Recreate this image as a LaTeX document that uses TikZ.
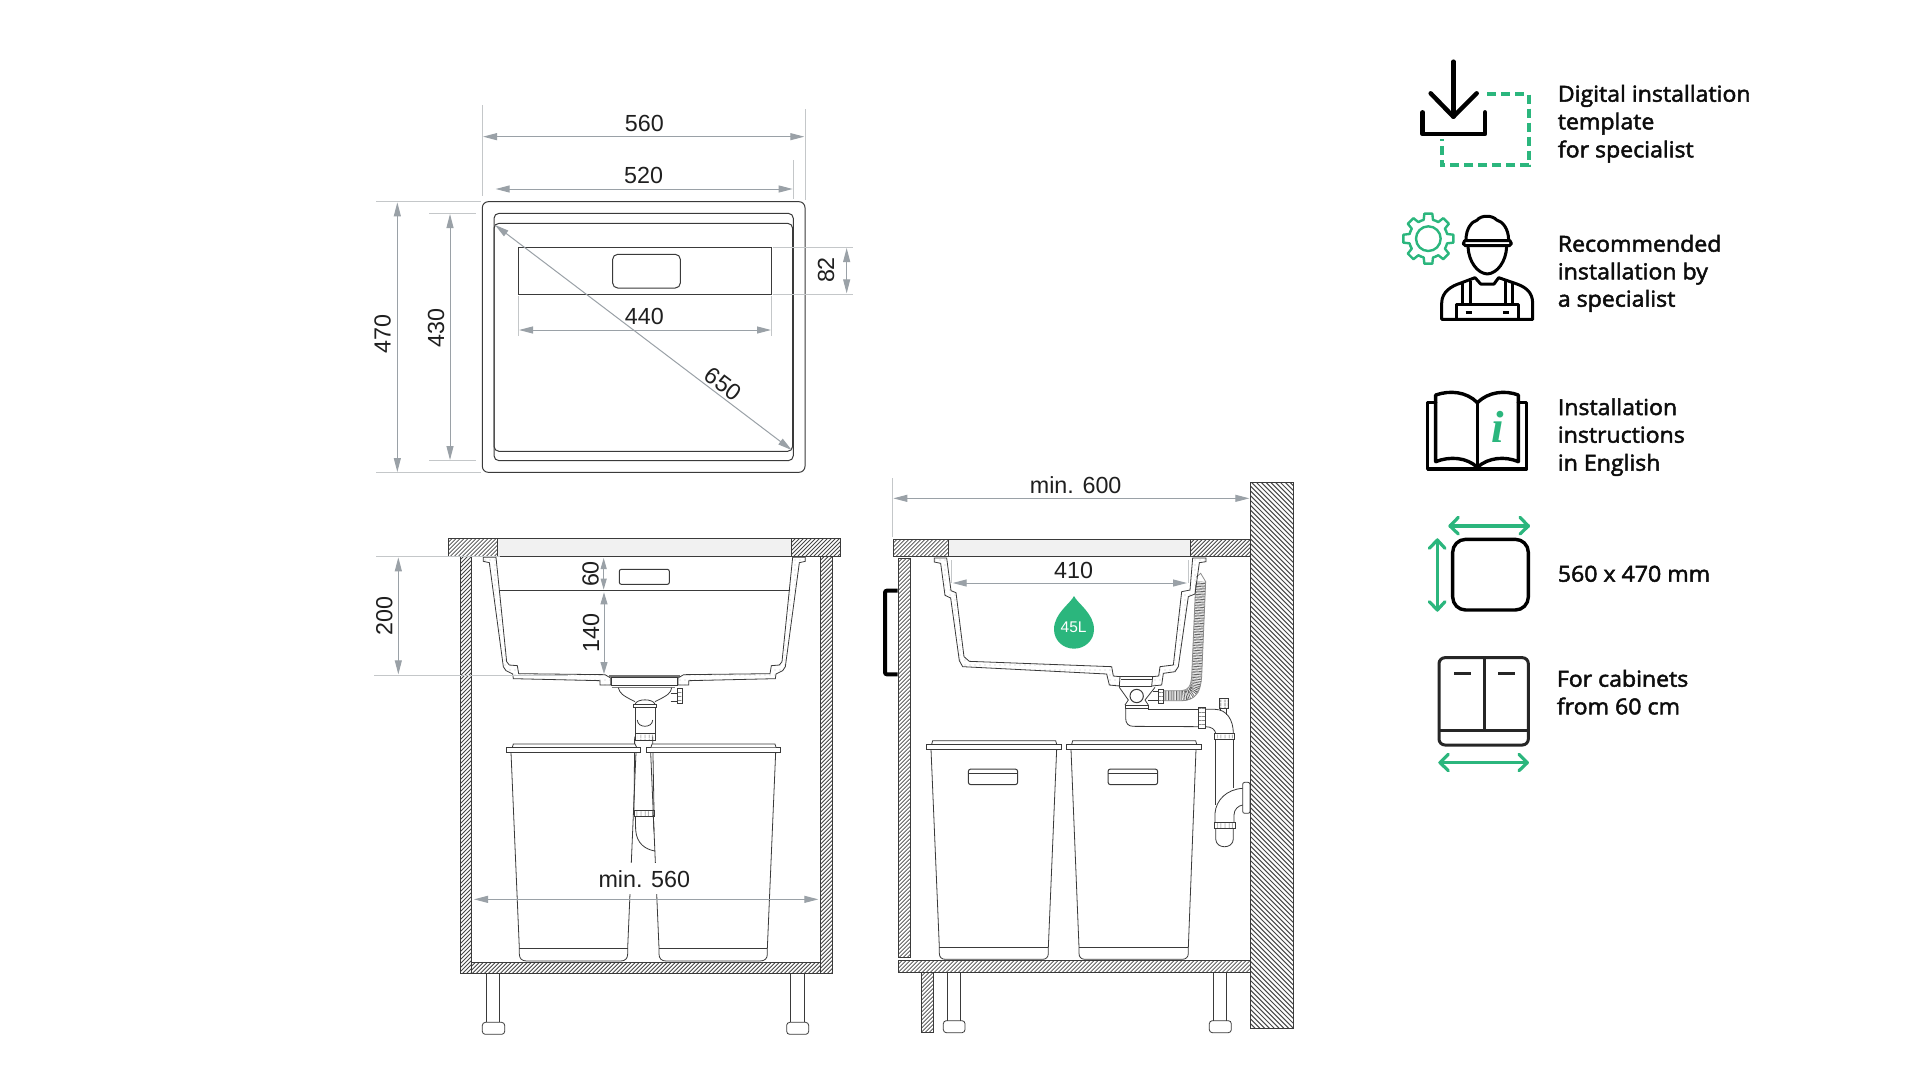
\documentclass[tikz,border=0pt]{standalone}
\usepackage{fontspec}
\setmainfont{Liberation Sans}
\newfontfamily\uifont{Open Sans}[FakeBold=2.2,FakeStretch=1.05]
\newfontfamily\infofont{Liberation Serif}
\usetikzlibrary{arrows.meta,patterns.meta}
\definecolor{dimgrey}{HTML}{9AA1A7}
\definecolor{extgrey}{HTML}{C4C7C9}
\definecolor{inkline}{HTML}{3A3A3A}
\definecolor{brand}{HTML}{2BB67D}
\definecolor{panel}{HTML}{F1F1F1}
\tikzset{
 Za/.style={shift={(360,90)},x=.33333pt,y=-.33333pt},
 Zb/.style={shift={(360,520)},x=.33333pt,y=-.33333pt},
 Zbm/.style={shift={(928.667,520)},x=-.33333pt,y=-.33333pt},
 Zc/.style={shift={(360,780)},x=.33333pt,y=-.33333pt},
 Zcm/.style={shift={(926.667,780)},x=-.33333pt,y=-.33333pt},
 Zd/.style={shift={(880,470)},x=.33333pt,y=-.33333pt},
 Ze/.style={shift={(880,760)},x=.33333pt,y=-.33333pt},
 Zf/.style={shift={(1390,50)},x=.33333pt,y=-.33333pt},
 Zg/.style={shift={(1390,380)},x=.33333pt,y=-.33333pt},
 ink/.style={draw=inkline,line width=.8pt},
 dimline/.style={draw=dimgrey,line width=1pt,arrows={Triangle[length=14pt,width=7pt]-Triangle[length=14pt,width=7pt]}},
 extline/.style={draw=extgrey,line width=1pt},
 dimtext/.style={inner sep=0pt,text=black!88,font=\fontsize{23.3}{23.3}\selectfont},
 uitext/.style={inner sep=0pt,anchor=base west,text=black!95,font=\uifont\fontsize{22}{22}\selectfont},
 stipple/.style={ink,pattern={Dots[distance=5pt,radius=.4pt]},pattern color=black!70},
 ringstripe/.style={ink,pattern={Lines[angle=90,distance=4pt,line width=.7pt]},pattern color=black!70},
 ringbar/.style={ink,pattern={Lines[angle=0,distance=4pt,line width=.7pt]},pattern color=black!70},
 iconblack/.style={draw=black,line width=3.4pt,line cap=round,line join=round},
 icongreen/.style={draw=brand,line width=3.2pt,line cap=round,line join=round},
}
% hatched box: x1 y1 x2 y2 (picture pixels), horizontal spacing, line width
\newcommand{\hatchup}[6]{%
 \begin{scope}
  \clip (#1,#2) rectangle (#3,#4);
  \pgfmathsetmacro{\hh}{#4-#2}
  \pgfmathsetmacro{\xa}{#1-\hh}
  \pgfmathsetmacro{\xb}{#1-\hh+#5}
  \foreach \xx in {\xa,\xb,...,#3}{
   \draw[black!72,line width=#6pt] (\xx,#4) -- ({\xx+\hh},#2);
  }
 \end{scope}
 \draw[ink] (#1,#2) rectangle (#3,#4);
}
\newcommand{\hatchdown}[6]{%
 \begin{scope}
  \clip (#1,#2) rectangle (#3,#4);
  \pgfmathsetmacro{\hh}{#4-#2}
  \pgfmathsetmacro{\xa}{#1-\hh}
  \pgfmathsetmacro{\xb}{#1-\hh+#5}
  \foreach \xx in {\xa,\xb,...,#3}{
   \draw[black!72,line width=#6pt] (\xx,#2) -- ({\xx+\hh},#4);
  }
 \end{scope}
 \draw[ink] (#1,#2) rectangle (#3,#4);
}
\begin{document}
\begin{tikzpicture}[x=1pt,y=-1pt]
\useasboundingbox (0,0) rectangle (1920,1080);
\fill[white] (0,0) rectangle (1920,1080);

%% ---------- top view
\begin{scope}[Za]
 \draw[ink,line width=1pt,rounded corners=6pt] (367,335) rectangle (1335,1147);
 \draw[ink,line width=1pt,rounded corners=5pt] (402,370) rectangle (1300,1112);
 \draw[ink,line width=1pt,rounded corners=5pt] (402,400) rectangle (1298,1084);
 \draw[ink,line width=1pt] (475,472) rectangle (1235,612);
 \draw[ink,line width=1pt,rounded corners=5pt] (758,493) rectangle (961,594);
 % extension lines
 \draw[extline] (367,45) -- (367,318);
 \draw[extline] (1335,58) -- (1335,330);
 \draw[extline] (1300,210) -- (1300,328);
 \draw[extline] (48,335) -- (362,335);
 \draw[extline] (48,1147) -- (362,1147);
 \draw[extline] (207,370) -- (347,370);
 \draw[extline] (207,1112) -- (347,1112);
 \draw[extline] (1238,472) -- (1480,472);
 \draw[extline] (1238,612) -- (1480,612);
 \draw[extline] (475,618) -- (475,738);
 \draw[extline] (1235,618) -- (1235,738);
 % dims
 \coordinate (d560a) at (369,140); \coordinate (d560b) at (1333,140);
 \draw[dimline] (d560a) -- (d560b);
 \coordinate (d520a) at (407,297); \coordinate (d520b) at (1298,297);
 \draw[dimline] (d520a) -- (d520b);
 \coordinate (d470a) at (112,337); \coordinate (d470b) at (112,1146);
 \draw[dimline] (d470a) -- (d470b);
 \coordinate (d430a) at (270,372); \coordinate (d430b) at (270,1110);
 \draw[dimline] (d430a) -- (d430b);
 \coordinate (d82a) at (1460,474); \coordinate (d82b) at (1460,610);
 \draw[dimline] (d82a) -- (d82b);
 \coordinate (d440a) at (477,720); \coordinate (d440b) at (1233,720);
 \draw[dimline] (d440a) -- (d440b);
 \coordinate (d650a) at (405,405); \coordinate (d650b) at (1295,1080);
 \draw[dimline] (d650a) -- (d650b);
 \node[dimtext] (t560) at (853,100) {560};
 \node[dimtext] (t520) at (851,257) {520};
 \node[dimtext,rotate=90] (t470) at (68,733) {470};
 \node[dimtext,rotate=90] (t430) at (228,715) {430};
 \node[dimtext,rotate=90] (t82) at (1398,540) {82};
 \node[dimtext] (t440) at (853,678) {440};
 \node[dimtext,rotate=-37] (t650) at (1090,882) {650};
\end{scope}

%% ---------- front view cabinet
\fill[panel] (497.3,538.3) rectangle (791.7,556);
\draw[ink] (497.3,538.3) rectangle (791.7,556);
\hatchup{448.3}{538.3}{497.3}{556}{4}{.75}
\hatchup{791.7}{538.3}{840.7}{556}{4}{.75}
\hatchup{460}{556}{471.7}{973.3}{4}{.75}
\hatchup{820.7}{556}{832.7}{973.3}{4}{.75}
\hatchup{471.7}{962}{820.7}{973.3}{4}{.75}
\begin{scope}[Zc]
 \draw[ink] (380,580) -- (380,727);
 \draw[ink] (419,580) -- (419,727);
 \draw[ink,rounded corners=3pt] (367,727) rectangle (434,763);
 \draw[ink] (1292,580) -- (1292,727);
 \draw[ink] (1332,580) -- (1332,727);
 \draw[ink,rounded corners=3pt] (1280,727) rectangle (1346,763);
 % waste pipe below sink
 \draw[ink] (824,-130) -- (822,92);
 \draw[ink] (878,-130) -- (882,92);
 \draw[ringstripe] (822,92) rectangle (882,110);
 \draw[ink] (826,110) -- (827,150) .. controls (830,190) and (855,208) .. (885,213);
 \draw[ink] (880,110) -- (882,155);
 % bins
 \draw[ink] (453,-83) -- (478,505) -- (478,522) .. controls (478,535) and (485,543) .. (500,543) -- (782,543) .. controls (796,543) and (803,535) .. (803,522) -- (803,505) -- (828,-83);
 \draw[ink] (478,505) -- (803,505);
\end{scope}
\begin{scope}[Zcm]
 \draw[ink] (453,-83) -- (478,505) -- (478,522) .. controls (478,535) and (485,543) .. (500,543) -- (782,543) .. controls (796,543) and (803,535) .. (803,522) -- (803,505) -- (828,-83);
 \draw[ink] (478,505) -- (803,505);
\end{scope}
\begin{scope}[Zb]
 \draw[ink,fill=white] (457,682) -- (460,672) -- (825,672) -- (830,682);
 \draw[ink,fill=white] (440,682) rectangle (840,697);
 \draw[ink,fill=white] (860,682) rectangle (1260,697);
 \draw[ink,fill=white] (873,682) -- (876,672) -- (1245,672) -- (1248,682);
 % sink
 \draw[stipple] (370,112) -- (370,124) -- (388,128) -- (430,440) -- (438,452) -- (458,462) -- (460,476) -- (720,482) -- (720,495) -- (752,495) -- (752,474) -- (735,464) -- (476,461) -- (472,437) -- (448,435) -- (440,425) -- (408,112) -- cycle;
 \draw[ink] (418,212) -- (1290,212);
 \draw[ink,line width=1pt,rounded corners=2pt] (778,148) rectangle (928,193);
 % drain
 \fill[black!55] (746,465) rectangle (960,471);
 \draw[ink] (755,472) rectangle (952,497);
 \draw[ink,draw=black!50] (755,503) -- (945,503);
 \draw[ink] (775,503) .. controls (780,520) and (785,525) .. (825,545);
 \draw[ink] (935,503) .. controls (932,520) and (925,525) .. (885,545);
 \draw[ink] (825,553) .. controls (830,535) and (880,535) .. (885,553);
 \draw[ink] (820,553) rectangle (890,563);
 \draw[ringbar] (952,505) rectangle (968,550);
 \draw[ink] (932,520) -- (952,520);
 \draw[ink] (932,545) -- (952,545);
 \draw[ink] (825,563) -- (825,640);
 \draw[ink] (885,563) -- (885,640);
 \draw[ink] (832,600) .. controls (832,625) and (878,625) .. (878,600);
 \draw[ringstripe] (825,640) rectangle (885,660);
\end{scope}
\begin{scope}[Zbm]
 \draw[stipple] (370,112) -- (370,124) -- (388,128) -- (430,440) -- (438,452) -- (458,462) -- (460,476) -- (720,482) -- (720,495) -- (752,495) -- (752,474) -- (735,464) -- (476,461) -- (472,437) -- (448,435) -- (440,425) -- (408,112) -- cycle;
\end{scope}
\begin{scope}[Zb]
 \draw[extline] (48,110) -- (420,110);
 \draw[extline] (43,465) -- (625,465);
 \coordinate (d200a) at (115,112); \coordinate (d200b) at (115,463);
 \draw[dimline] (d200a) -- (d200b);
 \coordinate (d60a) at (731,114); \coordinate (d60b) at (731,209);
 \draw[dimline,arrows={Triangle[length=11pt,width=6pt]-Triangle[length=11pt,width=6pt]}] (d60a) -- (d60b);
 \coordinate (d140a) at (732,217); \coordinate (d140b) at (732,462);
 \draw[dimline,arrows={Triangle[length=12pt,width=7pt]-Triangle[length=12pt,width=7pt]}] (d140a) -- (d140b);
 \node[dimtext,rotate=90] (t200) at (73,287) {200};
 \node[dimtext,rotate=90] (t60) at (692,162) {60};
 \node[dimtext,rotate=90] (t140) at (693,338) {140};
\end{scope}
\begin{scope}[Zc]
 \node[fill=white,inner sep=0pt,minimum width=96pt,minimum height=31pt] (tbg) at (853,296) {};
 \node[dimtext] (tmin560) at (853,297) {min. 560};
 \coordinate (dm560a) at (342,358); \coordinate (dm560b) at (1375,358);
 \draw[dimline] (dm560a) -- (dm560b);
\end{scope}

%% ---------- side view cabinet
\hatchdown{1250.3}{482}{1293.7}{1028.3}{4.8}{1.05}
\fill[panel] (948.3,539) rectangle (1190.7,556.7);
\draw[ink] (948.3,539) rectangle (1190.7,556.7);
\hatchup{893.3}{539}{948.3}{556.7}{4}{.75}
\hatchup{1190.7}{539}{1250.3}{556.7}{4}{.75}
\hatchup{898.3}{558.3}{910.7}{957.3}{4}{.75}
\hatchup{898.3}{960.3}{1250.3}{972.3}{4}{.75}
\hatchup{921.3}{972.3}{933.3}{1032.7}{4}{.75}
\begin{scope}[Zd]
 \draw[black,line width=4pt,rounded corners=2pt] (53,362) -- (15,362) -- (15,613) -- (53,613);
 \draw[extline] (38,25) -- (38,200);
 \coordinate (dm600a) at (40,85); \coordinate (dm600b) at (1108,85);
 \draw[dimline] (dm600a) -- (dm600b);
 \node[dimtext] (tmin600) at (587,45) {min. 600};
 % hose
 \draw[black!60,line width=10pt,dash pattern=on .7pt off .9pt] (850,677) -- (905,677) .. controls (945,677) and (948,650) .. (950,620) -- (962,335);
 \draw[ink,draw=black!45] (850,662) -- (905,662) .. controls (925,660) and (932,650) .. (935,620) -- (947,345);
 \draw[ink,draw=black!45] (850,692) -- (905,692) .. controls (950,692) and (962,660) .. (965,620) -- (977,335) -- (962,310) -- (948,322);
 \draw[ringbar] (835,657) rectangle (849,700);
 % sink
 \draw[stipple] (163,264) -- (163,276) -- (182,280) -- (195,376) -- (212,384) -- (238,572) -- (248,590) -- (680,612) -- (688,645) -- (718,648) -- (720,620) -- (700,618) -- (695,590) -- (268,574) -- (252,560) -- (228,368) -- (213,362) -- (200,264) -- cycle;
 \draw[stipple] (815,648) -- (845,645) -- (850,610) -- (885,605) -- (895,590) -- (925,380) -- (945,372) -- (958,278) -- (978,275) -- (978,264) -- (938,264) -- (930,360) -- (905,365) -- (880,585) -- (840,590) -- (836,618) -- (818,620) -- cycle;
 % drain
 \draw[ink] (720,620) -- (818,620);
 \draw[ink] (718,648) -- (815,648);
 \draw[ink] (722,628) -- (816,628);
 \draw[ink] (718,652) -- (745,690) -- (735,705);
 \draw[ink] (825,652) -- (795,690) -- (805,705);
 \draw[ink,line width=1pt] (770,678) circle[radius=20];
 \draw[ink] (818,665) -- (835,665);
 \draw[ink] (805,690) -- (835,690);
 \draw[ink] (735,705) rectangle (805,715);
 \draw[ink] (737,715) -- (737,745) .. controls (737,760) and (745,769) .. (760,769) -- (955,770);
 \draw[ink] (805,718) -- (955,718);
 \draw[ringbar] (955,712) rectangle (975,775);
 \draw[ink] (975,718) -- (1005,718) .. controls (1040,718) and (1060,750) .. (1060,790);
 \draw[ink] (975,770) .. controls (995,770) and (1005,778) .. (1007,790);
 \draw[ringstripe] (1017,685) rectangle (1045,715);
 \draw[ink] (1022,715) -- (1022,722);
 \draw[ink] (1040,715) -- (1040,735);
 \draw[ringstripe] (1003,790) rectangle (1063,807);
\end{scope}
\begin{scope}[Ze]
 \draw[ink] (202,637) -- (202,782); \draw[ink] (242,637) -- (242,782);
 \draw[ink,rounded corners=3pt] (190,782) rectangle (255,818);
 \draw[ink] (1000,637) -- (1000,782); \draw[ink] (1040,637) -- (1040,782);
 \draw[ink,rounded corners=3pt] (988,782) rectangle (1054,818);
 % pipe + trap
 \draw[ink] (1007,-63) -- (1007,135);
 \draw[ink] (1060,-63) -- (1060,85);
 \draw[ink,rounded corners=2pt] (1088,67) rectangle (1110,160);
 \draw[ink] (1088,85) .. controls (1040,88) and (1008,120) .. (1005,160) -- (1005,187);
 \draw[ink] (1088,135) .. controls (1075,137) and (1062,148) .. (1062,165) -- (1062,187);
 \draw[ringstripe] (1003,187) rectangle (1065,205);
 \draw[ink] (1007,205) -- (1007,237) .. controls (1008,268) and (1059,268) .. (1060,237) -- (1060,205);
 % bins
 \draw[ink] (153,-32) -- (178,562) -- (178,580) .. controls (178,592) and (185,598) .. (197,598) -- (487,598) .. controls (498,598) and (505,592) .. (505,580) -- (505,562) -- (530,-32);
 \draw[ink] (178,562) -- (505,562);
 \draw[ink,fill=white] (155,-47) -- (158,-58) -- (527,-58) -- (530,-47);
 \draw[ink,fill=white] (140,-47) rectangle (545,-32);
 \draw[ink,line width=1pt,rounded corners=2.5pt] (265,27) rectangle (413,74);
 \draw[ink] (265,41) -- (413,41);
 \draw[ink] (573,-32) -- (597,562) -- (597,580) .. controls (597,592) and (604,598) .. (616,598) -- (906,598) .. controls (917,598) and (925,592) .. (925,580) -- (925,562) -- (948,-32);
 \draw[ink] (597,562) -- (925,562);
 \draw[ink,fill=white] (575,-47) -- (578,-58) -- (947,-58) -- (950,-47);
 \draw[ink,fill=white] (560,-47) rectangle (965,-32);
 \draw[ink,line width=1pt,rounded corners=2.5pt] (684,27) rectangle (833,74);
 \draw[ink] (684,41) -- (833,41);
\end{scope}
\begin{scope}[Zd]
 \draw[extline] (215,270) -- (215,340);
 \draw[extline] (925,270) -- (925,340);
 \coordinate (d410a) at (218,339); \coordinate (d410b) at (921,339);
 \draw[dimline] (d410a) -- (d410b);
 \node[dimtext] (t410) at (581,302) {410};
 \fill[brand] (582,378) .. controls (572,400) and (522,430) .. (522,478) .. controls (522,512) and (550,536) .. (582,536) .. controls (614,536) and (642,512) .. (642,478) .. controls (642,430) and (592,400) .. (582,378) -- cycle;
 \node[inner sep=0pt,text=white,font=\fontsize{15.5}{15.5}\selectfont] (t45) at (581,473) {45L};
\end{scope}

%% ---------- legend icons
\begin{scope}[Zf]
 \draw[draw=brand,line width=4pt,dash pattern=on 9pt off 5pt] (292,133) -- (417,133) -- (417,345) -- (155,345) -- (155,266);
 \draw[iconblack,line width=4.5pt] (190,35) -- (190,200);
 \draw[iconblack,line width=4.5pt] (122,130) -- (190,200) -- (260,130);
 \draw[iconblack,line width=4.5pt] (98,187) -- (98,252) -- (285,252) -- (285,187);
 % gear
 \begin{scope}[shift={(115,566)}]
  \foreach \a in {0,45,...,315}{
   \draw[draw=brand,line width=2.4pt,line join=round,line cap=round]
    ({\a-22.5}:58) -- ({\a-14}:58) -- ({\a-9}:76) -- ({\a+9}:76) -- ({\a+14}:58) -- ({\a+22.5}:58);
  }
  \draw[draw=brand,line width=2.4pt] (0,0) circle[radius=37];
 \end{scope}
 % worker
 \draw[iconblack,line width=3pt] (228,570) .. controls (228,535) and (245,515) .. (262,510) .. controls (272,495) and (308,495) .. (320,510) .. controls (338,515) and (355,535) .. (356,570);
 \draw[iconblack,line width=3pt] (224,572) -- (360,572) .. controls (366,578) and (366,585) .. (358,587) -- (226,587) .. controls (218,585) and (218,578) .. (224,572) -- cycle;
 \draw[iconblack,line width=3pt] (234,590) .. controls (236,635) and (262,670) .. (292,672) .. controls (322,670) and (348,635) .. (350,590);
 \draw[iconblack,line width=3pt] (155,808) -- (155,760) .. controls (155,725) and (185,708) .. (210,700) -- (255,683) -- (272,702) -- (312,702) -- (326,683) -- (375,700) .. controls (405,710) and (428,725) .. (428,760) -- (428,808) -- cycle;
 \draw[iconblack,line width=3pt] (198,808) -- (198,762) -- (385,762) -- (385,808);
 \draw[iconblack,line width=3pt,line cap=butt] (218,700) -- (218,762);
 \draw[iconblack,line width=3pt,line cap=butt] (240,692) -- (240,762);
 \draw[iconblack,line width=3pt,line cap=butt] (345,692) -- (345,762);
 \draw[iconblack,line width=3pt,line cap=butt] (367,700) -- (367,762);
 \draw[iconblack,line width=3pt,line cap=butt] (227,787) -- (245,787);
 \draw[iconblack,line width=3pt,line cap=butt] (340,787) -- (358,787);
 \node[uitext] (l1a) at (503,155) {Digital installation};
 \node[uitext] (l1b) at (503,238) {template};
 \node[uitext] (l1c) at (503,322) {for specialist};
 \node[uitext] (l2a) at (503,605) {Recommended};
 \node[uitext] (l2b) at (503,688) {installation by};
 \node[uitext] (l2c) at (503,770) {a specialist};
\end{scope}
\begin{scope}[Zg]
 % book
 \draw[iconblack] (137,68) -- (113,68) -- (113,267) -- (410,267) -- (410,68) -- (385,68);
 \draw[iconblack] (137,45) .. controls (180,30) and (230,35) .. (262,68) .. controls (295,35) and (345,30) .. (385,45) -- (385,245) .. controls (345,228) and (295,232) .. (262,262) .. controls (230,232) and (180,228) .. (137,245) -- cycle;
 \draw[iconblack] (262,68) -- (262,262);
 \node[inner sep=0pt,text=brand,font=\infofont\bfseries\itshape\fontsize{45}{45}\selectfont] (infoi) at (323,140) {i};
 % size
 \draw[iconblack,rounded corners=13pt] (188,478) rectangle (415,690);
 \draw[icongreen] (180,438) -- (415,438);
 \draw[icongreen] (205,412) -- (180,438) -- (205,462);
 \draw[icongreen] (390,412) -- (415,438) -- (390,462);
 \draw[icongreen] (142,480) -- (142,690);
 \draw[icongreen] (118,505) -- (142,480) -- (165,505);
 \draw[icongreen] (118,665) -- (142,690) -- (165,665);
 % cabinet
 \draw[draw=black!85,line width=3pt,rounded corners=6pt] (147,833) rectangle (415,1095);
 \draw[draw=black!85,line width=3pt] (282,833) -- (282,1052);
 \draw[draw=black!85,line width=3pt] (147,1052) -- (415,1052);
 \draw[draw=black!85,line width=3.4pt] (192,881) -- (243,881);
 \draw[draw=black!85,line width=3.4pt] (324,881) -- (375,881);
 \draw[icongreen] (150,1148) -- (412,1148);
 \draw[icongreen] (175,1123) -- (150,1148) -- (175,1172);
 \draw[icongreen] (387,1123) -- (412,1148) -- (387,1172);
 \node[uitext] (l3a) at (503,105) {Installation};
 \node[uitext] (l3b) at (503,188) {instructions};
 \node[uitext] (l3c) at (503,272) {in English};
 \node[uitext] (l4a) at (503,605) {560 x 470 mm};
 \node[uitext] (l5a) at (500,920) {For cabinets};
 \node[uitext] (l5b) at (500,1003) {from 60 cm};
\end{scope}
\end{tikzpicture}
\end{document}
